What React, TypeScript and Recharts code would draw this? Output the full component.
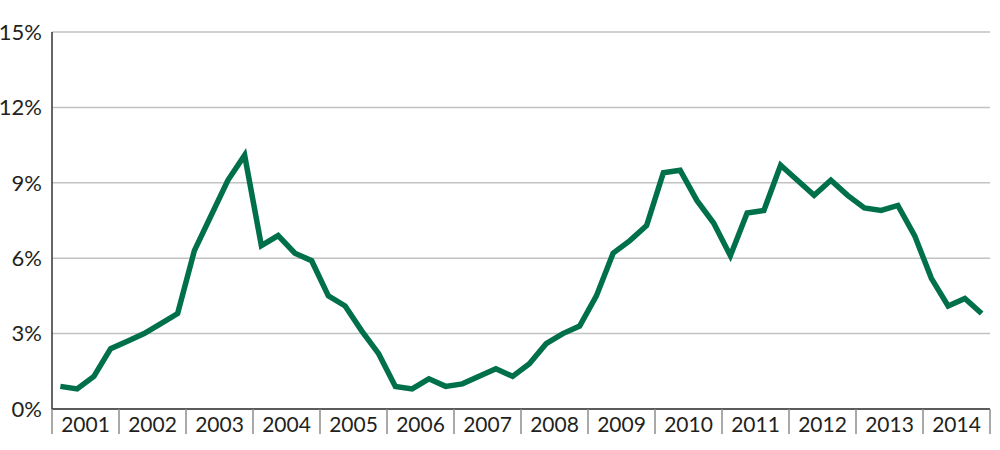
import { LineChart, Line, XAxis, YAxis, CartesianGrid } from "recharts";

const years = [2001, 2002, 2003, 2004, 2005, 2006, 2007, 2008, 2009, 2010, 2011, 2012, 2013, 2014];

// quarterly rate (%), four values per year
const rates = [
  0.9, 0.8, 1.3, 2.4,
  2.7, 3.0, 3.4, 3.8,
  6.3, 7.7, 9.1, 10.1,
  6.5, 6.9, 6.2, 5.9,
  4.5, 4.1, 3.1, 2.2,
  0.9, 0.8, 1.2, 0.9,
  1.0, 1.3, 1.6, 1.3,
  1.8, 2.6, 3.0, 3.3,
  4.5, 6.2, 6.7, 7.3,
  9.4, 9.5, 8.3, 7.4,
  6.1, 7.8, 7.9, 9.7,
  9.1, 8.5, 9.1, 8.5,
  8.0, 7.9, 8.1, 6.9,
  5.2, 4.1, 4.4, 3.8,
];

const yTicks = [0, 3, 6, 9, 12, 15];

const data = rates.map((rate, i) => ({ q: i + 0.5, rate }));
const quarters = years.length * 4;
// even steps: year boundaries (multiples of 4) and year centres (2 mod 4)
const xTicks = Array.from({ length: years.length * 2 + 1 }, (_, i) => i * 2);

const FONT = "Lato, 'Liberation Sans', sans-serif";
const TEXT = "#231f20";

function YearTick(props: any) {
  const { x, y, payload } = props;
  const v = payload.value as number;
  if (v % 4 === 0) {
    return <line x1={x} x2={x} y1={y} y2={y + 25} stroke="#8c8c8c" strokeWidth={1.5} />;
  }
  const year = years[(v - 2) / 4];
  return (
    <text x={x} y={y + 23} textAnchor="middle" fill={TEXT} fontSize={21} fontFamily={FONT}>
      {year}
    </text>
  );
}

export default function App() {
  return (
    <div style={{ position: "absolute", left: 0, top: 0, width: 1000, height: 450, background: "#fff" }}>
      <LineChart width={1000} height={450} data={data} margin={{ top: 32, right: 10, bottom: 0, left: 0 }}>
        <CartesianGrid vertical={false} stroke="#c2c2c2" strokeWidth={1.5} />
        <XAxis
          type="number"
          dataKey="q"
          domain={[0, quarters]}
          ticks={xTicks}
          interval={0}
          tick={<YearTick />}
          tickLine={false}
          tickSize={0}
          tickMargin={0}
          height={41}
          axisLine={{ stroke: "#333", strokeWidth: 1.5 }}
        />
        <YAxis
          domain={[0, 15]}
          ticks={yTicks}
          interval={0}
          width={52}
          tickLine={false}
          tickMargin={4}
          tickFormatter={(v) => `${v}%`}
          tick={{ fill: TEXT, fontSize: 22, fontFamily: FONT }}
          axisLine={{ stroke: "#333", strokeWidth: 1.5 }}
        />
        <Line
          type="linear"
          dataKey="rate"
          stroke="#00704a"
          strokeWidth={5.5}
          dot={false}
          isAnimationActive={false}
        />
      </LineChart>
    </div>
  );
}
